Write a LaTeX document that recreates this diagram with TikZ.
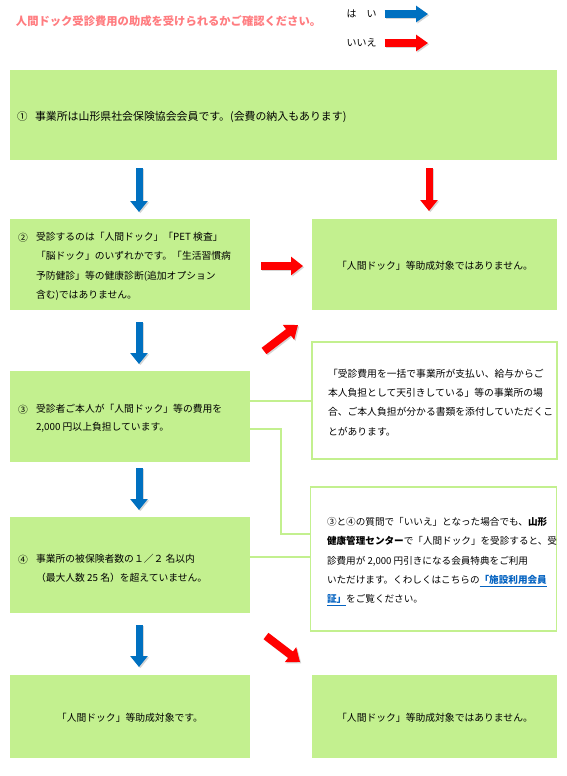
\documentclass[tikz,border=0pt]{standalone}
\usepackage{fontspec}
\setmainfont{Noto Sans CJK JP}
\usetikzlibrary{arrows.meta}
\definecolor{boxgreen}{HTML}{C3F08F}
\definecolor{lineg}{HTML}{C3F08F}
\definecolor{yesblue}{HTML}{0070C0}
\definecolor{nored}{HTML}{FF0000}
\definecolor{titlepink}{HTML}{FF7C80}
\definecolor{linkblue}{HTML}{0563C1}
\newcommand{\fatarrow}[3]{%
  \draw[#1, draw=black!16, transform canvas={xshift=1.3pt,yshift=-1.3pt}] (#2) -- (#3);
  \draw[#1] (#2) -- (#3);}
\newcommand{\linktext}[1]{\textcolor{linkblue}{\bfseries\underline{#1}}}
\begin{document}
\begin{tikzpicture}[x=1pt,y=-1pt,
  every node/.style={inner sep=0pt, outer sep=0pt},
  gbox/.style={fill=boxgreen, draw=none, anchor=north west},
  notebox/.style={draw=lineg, line width=1.5pt, fill=white, anchor=north west},
  txt/.style={font=\fontsize{9.8}{19.3}\selectfont, align=left, anchor=west},
  txtb/.style={font=\fontsize{9.8}{18.4}\selectfont, align=left, anchor=west},
  ctxt/.style={font=\fontsize{9.8}{19.3}\selectfont, anchor=center},
  conn/.style={draw=lineg, line width=1.3pt},
  yesarr/.style={draw=yesblue, line width=7pt, -{Triangle[width=17pt,length=11pt]}},
  noarr/.style={draw=nored, line width=8pt, -{Triangle[width=18pt,length=12pt]}},
  legarr/.style={line width=8pt, -{Triangle[width=16pt,length=12pt]}}
]
\useasboundingbox (0,0) rectangle (567,776);

% title and legend
\node[anchor=west, font=\fontsize{11.3}{13}\selectfont\bfseries, text=titlepink] (title) at (16,21) {人間ドック受診費用の助成を受けられるかご確認ください。};
\node[anchor=west, font=\fontsize{10}{12}\selectfont] (legyes) at (346.5,13.5) {は　い};
\node[anchor=west, font=\fontsize{10}{12}\selectfont] (legno) at (346.5,43) {いいえ};
\coordinate (lys) at (384.5,14);
\coordinate (lye) at (428,14);
\coordinate (lns) at (384.5,43);
\coordinate (lne) at (428,43);
\fatarrow{legarr, draw=yesblue}{lys}{lye}
\fatarrow{legarr, draw=nored}{lns}{lne}

% boxes
\node[gbox, minimum width=547, minimum height=90] (b1) at (10,70) {};
\node[gbox, minimum width=240, minimum height=91] (b2) at (10,219) {};
\node[gbox, minimum width=245, minimum height=91] (n1) at (312,219) {};
\node[notebox, minimum width=245, minimum height=117] (note1) at (312,342) {};
\node[gbox, minimum width=240, minimum height=91] (b3) at (10,371) {};
\node[notebox, minimum width=246, minimum height=144] (note2) at (310.5,487) {};
\node[gbox, minimum width=240, minimum height=96] (b4) at (10,517) {};
\node[gbox, minimum width=240, minimum height=83] (b5) at (10,675) {};
\node[gbox, minimum width=245, minimum height=83] (b6) at (312,675) {};

% texts
\node[anchor=west, font=\fontsize{10.5}{12}\selectfont] (b1num) at (17,117) {①};
\node[anchor=west, font=\fontsize{10.9}{12}\selectfont] (b1txt) at (35,117) {事業所は山形県社会保険協会会員です。(会費の納入もあります)};

\node[anchor=west, font=\fontsize{9.8}{12}\selectfont] (b2num) at (18,237.3) {②};
\node[txt] (b2txt) at (36,266.2) {受診するのは「人間ドック」「PET 検査」\\「脳ドック」のいずれかです。「生活習慣病\\予防健診」等の健康診断(追加オプション\\含む)ではありません。};

\node[ctxt] (n1txt) at (435,266) {「人間ドック」等助成対象ではありません。};

\node[txt] (note1txt) at (328,402.2) {「受診費用を一括で事業所が支払い、給与からご\\本人負担として天引きしている」等の事業所の場\\合、ご本人負担が分かる書類を添付していただくこ\\とがあります。};

\node[anchor=west, font=\fontsize{9.8}{12}\selectfont] (b3num) at (18,409.3) {③};
\node[txtb] (b3txt) at (36,418.5) {受診者ご本人が「人間ドック」等の費用を\\2,000 円以上負担しています。};

\node[txt, font=\fontsize{9.6}{19.3}\selectfont] (note2txt) at (327,561.5) {③と④の質問で「いいえ」となった場合でも、\textbf{山形}\\\textbf{健康管理センター}で「人間ドック」を受診すると、受\\診費用が 2,000 円引きになる会員特典をご利用\\いただけます。くわしくはこちらの\linktext{「施設利用会員}\\\linktext{証」}をご覧ください。};

\node[anchor=west, font=\fontsize{9.8}{12}\selectfont] (b4num) at (18,559.3) {④};
\node[txtb] (b4txt) at (36,568.5) {事業所の被保険者数の１／２ 名以内\\（最大人数 25 名）を超えていません。};

\node[ctxt] (b5txt) at (130,718) {「人間ドック」等助成対象です。};
\node[ctxt] (b6txt) at (435,718) {「人間ドック」等助成対象ではありません。};

% connectors between boxes and notes
\draw[conn] ([yshift=15.5pt]b3.east) -- ([yshift=15.5pt]b3.east -| note1.west);
\draw[conn] ([yshift=-12.5pt]b3.east) -- ++(31,0) |- ([yshift=25pt]note2.west);
\draw[conn] ([yshift=8pt]b4.east) -- ([yshift=8pt]b4.east -| note2.west);

% flow arrows
\coordinate (y1s) at (139,168);
\coordinate (y1e) at (139,212);
\coordinate (r1s) at (429,168);
\coordinate (r1e) at (429,211);
\coordinate (r2s) at (261,266);
\coordinate (r2e) at (303,266);
\coordinate (y2s) at (139,322);
\coordinate (y2e) at (139,364);
\coordinate (r3s) at (264,351);
\coordinate (r3e) at (298,325);
\coordinate (y3s) at (139,468);
\coordinate (y3e) at (139,510);
\coordinate (y4s) at (139,625);
\coordinate (y4e) at (139,667);
\coordinate (r4s) at (266,636);
\coordinate (r4e) at (300,662);
\fatarrow{yesarr}{y1s}{y1e}
\fatarrow{yesarr}{y2s}{y2e}
\fatarrow{yesarr}{y3s}{y3e}
\fatarrow{yesarr}{y4s}{y4e}
\fatarrow{noarr, line width=7pt, -{Triangle[width=17pt,length=11pt]}}{r1s}{r1e}
\fatarrow{noarr}{r2s}{r2e}
\fatarrow{noarr}{r3s}{r3e}
\fatarrow{noarr}{r4s}{r4e}
\end{tikzpicture}
\end{document}
